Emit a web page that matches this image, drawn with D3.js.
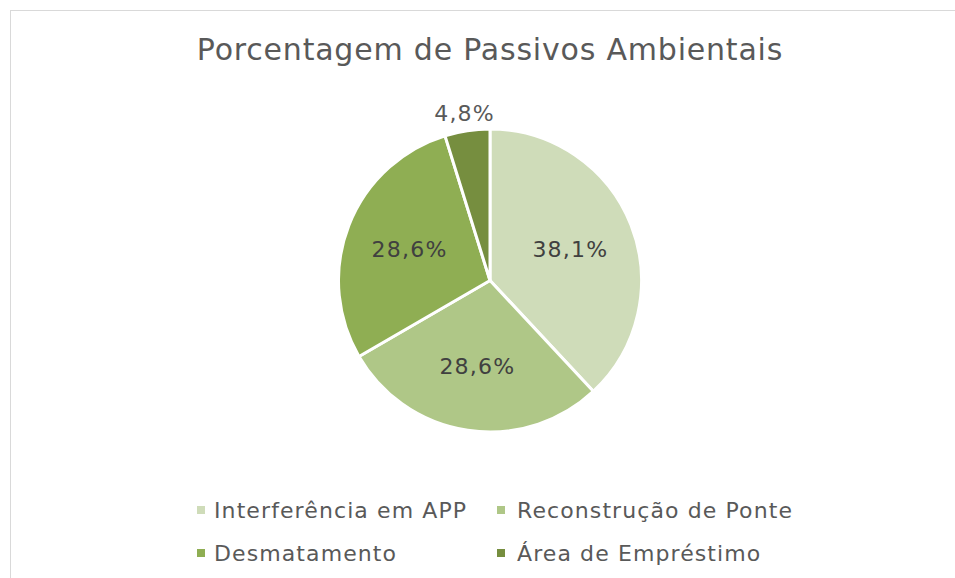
<!DOCTYPE html>
<html><head><meta charset="utf-8">
<script src="https://cdn.jsdelivr.net/npm/d3@7"></script>
<style>body{margin:0;background:#fff;font-family:"DejaVu Sans",sans-serif;}</style>
</head><body><svg id="c" width="955" height="578"></svg>
<script>
const categories = ["Interferência em APP","Reconstrução de Ponte","Desmatamento","Área de Empréstimo"];
const values = [38.1, 28.6, 28.6, 4.8];
const labels = ["38,1%","28,6%","28,6%","4,8%"];
const colors = ["#cfdcb9","#afc787","#8fae53","#768e3f"];
const title = "Porcentagem de Passivos Ambientais";

const svg = d3.select("#c");
svg.append("rect").attr("x",10.5).attr("y",10.5).attr("width",960).attr("height",600)
  .attr("fill","#fff").attr("stroke","#d9d9d9").attr("stroke-width",1);
svg.append("text").attr("x",490).attr("y",60).attr("text-anchor","middle")
  .attr("font-size",30).attr("letter-spacing",0.8).attr("fill","#595959").text(title);

const cx=490, cy=280.5, r=151.5;
const g = svg.append("g").attr("transform",`translate(${cx},${cy})`);
const pie = d3.pie().sort(null).value(d=>d)(values);
const arc = d3.arc().innerRadius(0).outerRadius(r);
g.selectAll("path").data(pie).enter().append("path")
  .attr("d",arc).attr("fill",(d,i)=>colors[i]).attr("stroke","#fff").attr("stroke-width",3).attr("stroke-linejoin","round");

const inArc = d3.arc().innerRadius(r*0.57).outerRadius(r*0.57);
pie.forEach((d,i)=>{
  let x,y,fill;
  if(i<3){ [x,y]=inArc.centroid(d); fill="#404040"; }
  else { const a=(d.startAngle+d.endAngle)/2; x=Math.sin(a)*(r+18); y=-Math.cos(a)*(r+18); fill="#595959"; }
  g.append("text").attr("x",x).attr("y",y).attr("dy","0.35em").attr("text-anchor","middle")
    .attr("font-size",22).attr("letter-spacing",1.2).attr("fill",fill).text(labels[i]);
});

const legPos = [[201,510],[501,510],[201,553],[501,553]];
categories.forEach((c,i)=>{
  const [x,y]=legPos[i];
  svg.append("rect").attr("x",x-4).attr("y",y-4).attr("width",8).attr("height",8).attr("fill",colors[i]);
  svg.append("text").attr("x",i%2===0 ? x+13 : x+16).attr("y",y).attr("dy","0.35em").attr("font-size",22)
    .attr("letter-spacing",1.1).attr("fill","#595959").text(c);
});
</script></body></html>
